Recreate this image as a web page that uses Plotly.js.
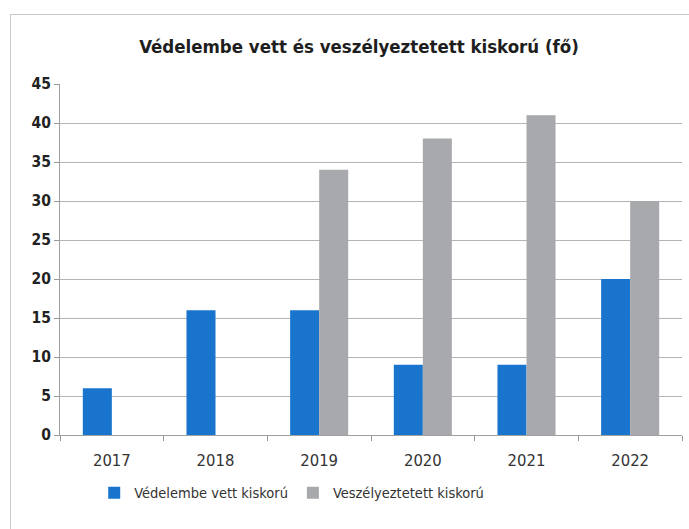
<!DOCTYPE html>
<html><head><meta charset="utf-8">
<script src="https://cdn.plot.ly/plotly-3.0.1.min.js"></script>
<style>
html,body{margin:0;padding:0;background:#fff;}
#wrap{position:relative;width:689px;height:529px;}
#chart{width:689px;height:529px;}
#frame{position:absolute;left:10px;top:14px;width:690px;height:530px;border-left:1.5px solid #c8c8c8;border-top:1.5px solid #c8c8c8;pointer-events:none;}
</style></head>
<body>
<div id="wrap"><div id="chart"></div><div id="frame"></div></div>
<script>
const years = ['2017','2018','2019','2020','2021','2022'];
const vedelembe = [6, 16, 16, 9, 9, 20];
const veszelyeztetett = [0, 0, 34, 38, 41, 30];
const seriesNames = ['Védelembe vett kiskorú', 'Veszélyeztetett kiskorú'];
const yTicks = [0,5,10,15,20,25,30,35,40,45];

const font = 'DejaVu Sans Condensed, Liberation Sans, sans-serif';
const data = [
  {type:'bar', x:years, y:vedelembe, name:seriesNames[0], marker:{color:'#1874cd'}},
  {type:'bar', x:years, y:veszelyeztetett, name:seriesNames[1], marker:{color:'#a7a9ac'}}
];
const layout = {
  width:689, height:529,
  margin:{l:60, r:7, t:84, b:94},
  paper_bgcolor:'#fff', plot_bgcolor:'#fff',
  barmode:'group', bargap:0.44, bargroupgap:0,
  title:{text:'<b>Védelembe vett és veszélyeztetett kiskorú (fő)</b>', xref:'container', x:359/689, xanchor:'center',
    yref:'container', y:1-47/529, yanchor:'middle',
    font:{family:font, size:18.5, color:'#1e1e1e'}},
  xaxis:{type:'category', tickson:'boundaries', ticks:'outside', ticklen:5, tickcolor:'#999',
    showline:true, linecolor:'#a0a0a0', linewidth:1, showgrid:false, ticklabelstandoff:10,
    tickfont:{family:font, size:16.5, color:'#333'}},
  yaxis:{range:[0,45], tickvals:yTicks, ticktext:yTicks.map(String), ticks:'outside', ticklen:5, tickcolor:'#999',
    showline:true, linecolor:'#a0a0a0', gridcolor:'#b4b4b4', gridwidth:1, zeroline:false,
    tickfont:{family:font, size:15.5, color:'#222', weight:'bold'}},
  legend:{orientation:'h', x:0.055, xanchor:'left', y:-0.165, yanchor:'middle',
    font:{family:font, size:14.5, color:'#333'}, tracegroupgap:0}
};
Plotly.newPlot('chart', data, layout, {displayModeBar:false, staticPlot:true});
</script>
</body></html>
